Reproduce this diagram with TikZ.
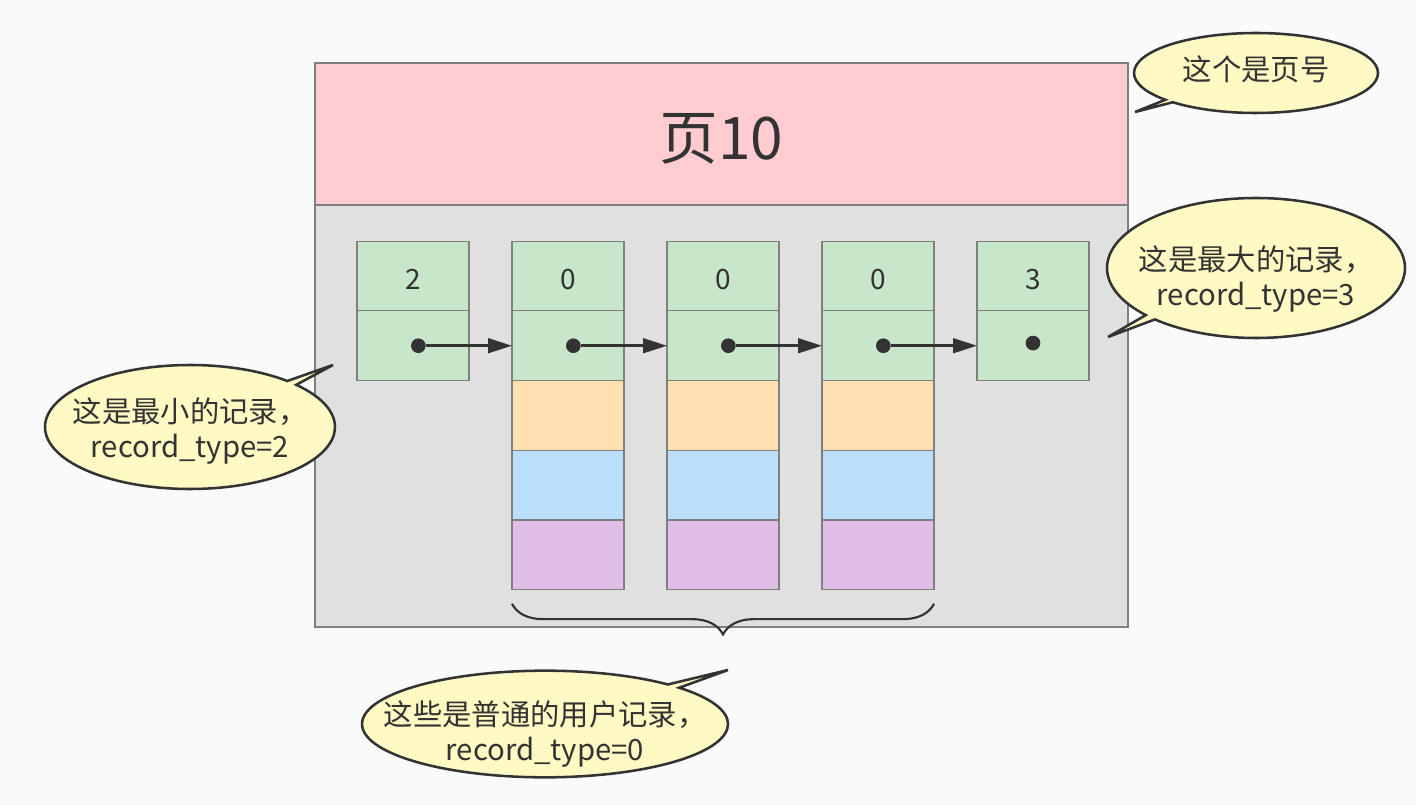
\documentclass[tikz,border=0pt]{standalone}
\usepackage{fontspec}
\setmainfont{Noto Sans CJK SC}
\usetikzlibrary{arrows.meta,positioning,shapes.callouts,decorations.pathreplacing}
\definecolor{ink}{HTML}{333333}
\definecolor{edge}{HTML}{7F7F7F}
\definecolor{canvas}{HTML}{FAFAFA}
\definecolor{pagehead}{HTML}{FFCCD2}
\definecolor{pagebody}{HTML}{E0E0E0}
\definecolor{recgreen}{HTML}{C8E6C9}
\definecolor{recorange}{HTML}{FFE0B2}
\definecolor{recblue}{HTML}{BBDEFB}
\definecolor{recpurple}{HTML}{E1BEE7}
\definecolor{noteyellow}{HTML}{FFF9C4}

\begin{document}
\begin{tikzpicture}[
    x=0.75pt, y=-0.75pt,
    node distance=32.25pt,
    pagebox/.style={rectangle,draw=edge,line width=0.9pt,minimum width=609.75pt,inner sep=0pt,outer sep=0pt,text=ink},
    cell/.style={rectangle,draw=edge,line width=0.9pt,minimum width=84pt,minimum height=52.3pt,inner sep=0pt,outer sep=0pt,
      text height=21pt,text depth=0pt,font=\fontsize{21}{25}\selectfont,text=ink},
    dot/.style={circle,fill=ink,inner sep=0pt,minimum size=11pt},
    link/.style={draw=ink,line width=2pt,-{Triangle[length=18pt,width=11pt]}},
    note/.style={ellipse callout,draw=ink,line width=1.9pt,fill=noteyellow,inner sep=0pt,callout pointer arc=5},
    notetext/.style={align=center,font=\fontsize{22}{26.25}\selectfont,text=ink}]
    \fill[canvas] (0,0) rectangle (1416,805);

    % page frame
    \node[pagebox,fill=pagehead,minimum height=106.5pt,text height=38pt,text depth=0pt,
      font=\fontsize{44}{50}\selectfont] (title) at (721.5,134) {页10};
    \node[pagebox,fill=pagebody,minimum height=316.5pt,below=0pt of title] (body) {};

    % records
    \node[cell,fill=recgreen] (minhd) at (413,276) {2};
    \node[cell,fill=recgreen,below=0pt of minhd] (minnx) {};
    \node[cell,fill=recgreen,right=of minhd] (u1hd) {0};
    \node[cell,fill=recgreen,below=0pt of u1hd] (u1nx) {};
    \node[cell,fill=recorange,below=0pt of u1nx] (u1f1) {};
    \node[cell,fill=recblue,below=0pt of u1f1] (u1f2) {};
    \node[cell,fill=recpurple,below=0pt of u1f2] (u1f3) {};
    \node[cell,fill=recgreen,right=of u1hd] (u2hd) {0};
    \node[cell,fill=recgreen,below=0pt of u2hd] (u2nx) {};
    \node[cell,fill=recorange,below=0pt of u2nx] (u2f1) {};
    \node[cell,fill=recblue,below=0pt of u2f1] (u2f2) {};
    \node[cell,fill=recpurple,below=0pt of u2f2] (u2f3) {};
    \node[cell,fill=recgreen,right=of u2hd] (u3hd) {0};
    \node[cell,fill=recgreen,below=0pt of u3hd] (u3nx) {};
    \node[cell,fill=recorange,below=0pt of u3nx] (u3f1) {};
    \node[cell,fill=recblue,below=0pt of u3f1] (u3f2) {};
    \node[cell,fill=recpurple,below=0pt of u3f2] (u3f3) {};
    \node[cell,fill=recgreen,right=of u3hd] (maxhd) {3};
    \node[cell,fill=recgreen,below=0pt of maxhd] (maxnx) {};

    % next_record pointers
    \node[dot] (minp) at ([xshift=4pt]minnx.center) {};
    \node[dot] (u1p) at ([xshift=4pt]u1nx.center) {};
    \node[dot] (u2p) at ([xshift=4pt]u2nx.center) {};
    \node[dot] (u3p) at ([xshift=4pt]u3nx.center) {};
    \node[dot] (maxp) at ([yshift=2pt]maxnx.center) {};
    \draw[link] (minp) -- (u1nx);
    \draw[link] (u1p) -- (u2nx);
    \draw[link] (u2p) -- (u3nx);
    \draw[link] (u3p) -- (maxnx);

    \draw[ink,line width=1.6pt,decorate,decoration={brace,amplitude=23pt}]
      ([yshift=-10.5pt]u3f3.south east) -- ([yshift=-10.5pt]u1f3.south west);

    % notes
    \coordinate (pgtip) at (1135,112);
    \coordinate (maxtip) at (1108,337);
    \coordinate (mintip) at (333,365);
    \coordinate (usrtip) at (728,670);
    \node[note,minimum width=183pt,minimum height=60pt,callout absolute pointer={(pgtip)},
      label={[notetext,yshift=3pt]center:这个是页号}] (pgnote) at (1256,73) {};
    \node[note,minimum width=223.5pt,minimum height=105pt,callout absolute pointer={(maxtip)},
      label={[notetext,yshift=-8pt]center:{这是最大的记录，\\record\_type=3}}] (maxnote) at (1256,268) {};
    \node[note,minimum width=217.5pt,minimum height=93pt,callout absolute pointer={(mintip)},
      label={[notetext,yshift=-3pt]center:{这是最小的记录，\\record\_type=2}}] (minnote) at (190,427) {};
    \node[note,minimum width=274.5pt,minimum height=80pt,callout absolute pointer={(usrtip)},
      label={[notetext,yshift=-7.5pt]center:{这些是普通的用户记录，\\record\_type=0}}] (usrnote) at (545,724) {};
  \end{tikzpicture}
\end{document}
